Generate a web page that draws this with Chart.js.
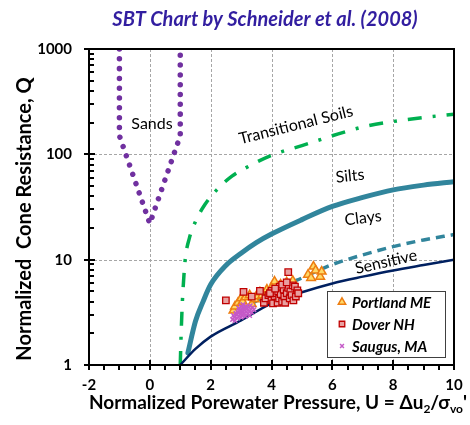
<!DOCTYPE html>
<html>
<head>
<meta charset="utf-8">
<script src="https://cdn.jsdelivr.net/npm/chart.js@4.4.1/dist/chart.umd.min.js"></script>
<style>
  body { margin: 0; background: #fff; }
  canvas { display: block; }
</style>
</head>
<body>
<canvas id="sbt" width="470" height="425"></canvas>
<script>
// axis ticks
const xTicks = [-2, 0, 2, 4, 6, 8, 10];
const yTicks = [1, 10, 100, 1000];
const xGrid = [0, 2, 4, 6, 8];
const yGrid = [10, 100];

// boundary lines (U, Q)
const sandX = [-1, -1, 0, 1, 1];
const sandQ = [1000, 150, 22, 150, 1000];
const transX = [1, 1.03, 1.07, 1.12, 1.17, 1.3, 1.5, 1.8, 2.2, 2.7, 3.25, 4, 5, 6, 7, 8, 9, 10];
const transQ = [1, 2, 4, 7, 10.5, 16, 23, 33, 46, 62, 77, 98, 121, 150, 182, 205, 224, 240];
const clayX = [1.25, 1.5, 1.75, 2, 2.5, 3, 3.5, 4, 5, 6, 7, 8, 9, 10];
const clayQ = [1.3, 2.6, 4.0, 5.8, 8.8, 11.5, 14.5, 17.5, 24, 32, 39, 46, 51, 55];
const sensX = [3.4, 4, 4.5, 5, 6, 7, 8, 9, 10];
const sensQ = [3.9, 4.9, 5.8, 6.7, 9.0, 11.1, 13.3, 15.4, 17.3];
const lowX = [1, 1.5, 2, 3, 4, 5, 6, 7, 8, 9, 10];
const lowQ = [1, 1.42, 1.86, 2.65, 3.85, 4.9, 5.95, 6.9, 7.9, 8.9, 10];

// site data [U, Q]
const portland = [[2.75,3.3],[2.8,3.6],[2.9,3.9],[3.0,4.3],[3.05,4.0],[3.15,4.4],[3.28,4.6],[3.35,3.8],
  [3.45,4.2],[3.5,4.5],[3.62,4.9],[3.7,4.6],[3.85,5.2],[4.1,6.2],[4.3,5.8],[4.5,6.1],[4.7,6.3],
  [5.2,7.2],[5.3,6.7],[5.38,8.6],[5.45,7.9],[5.6,6.9],[5.65,7.7],[4.0,5.4],[3.95,4.9]];
const dover = [[2.5,4.1],[3.08,4.95],[3.35,4.45],[3.62,5.05],[3.75,3.9],[3.8,4.3],[3.9,4.6],[4.0,5.05],
  [4.0,4.1],[4.05,3.85],[4.1,4.5],[4.15,4.8],[4.2,3.9],[4.22,5.0],[4.25,4.3],[4.27,5.55],[4.3,4.7],
  [4.35,4.0],[4.4,5.2],[4.42,4.45],[4.45,3.9],[4.5,4.8],[4.55,5.4],[4.55,7.6],[4.6,4.3],[4.62,5.0],
  [4.66,4.6],[4.7,5.7],[4.72,4.1],[4.77,5.55],[4.8,4.47],[4.85,5.1],[4.88,4.8],[4.35,5.8],[4.5,6.1],
  [3.95,4.8],[4.12,5.3]];
const saugus = [[2.72,2.7],[2.78,2.85],[2.8,2.65],[2.85,3.0],[2.88,2.78],[2.9,3.15],[2.93,2.9],[2.95,3.3],
  [2.97,3.05],[3.0,2.85],[3.02,3.4],[3.04,3.2],[3.05,2.95],[3.08,3.5],[3.1,3.1],[3.12,3.3],[3.14,2.9],
  [3.16,3.6],[3.18,3.2],[3.2,3.42],[3.22,3.05],[3.25,3.55],[3.27,3.25],[3.3,3.65],[3.32,3.4],[3.35,3.15],
  [3.38,3.5],[2.83,3.1],[2.92,3.45],[3.0,3.6],[3.28,2.95],[3.42,3.35],[2.75,2.95],[3.06,3.75],[3.15,3.45],
  [2.98,3.2]];

const zoneLabels = [
  { text: 'Sands', x: 152, y: 124, rot: 0 },
  { text: 'Transitional Soils', x: 296, y: 125, rot: -14 },
  { text: 'Silts', x: 350, y: 176, rot: -6 },
  { text: 'Clays', x: 363, y: 218, rot: -7 },
  { text: 'Sensitive', x: 386, y: 262, rot: -13 },
];

const pts = (xs, ys) => xs.map((x, i) => ({ x, y: ys[i] }));
const xy = arr => arr.map(p => ({ x: p[0], y: p[1] }));

Chart.defaults.font.family = 'Lato, "Open Sans", sans-serif';

const sites = [
  { label: 'Portland ME', data: xy(portland), pointStyle: 'triangle', pointRadius: 5,
    backgroundColor: '#FFD966', borderColor: '#ED7D11', pointBorderWidth: 1.5 },
  { label: 'Dover NH', data: xy(dover), pointStyle: 'rect', pointRadius: 4.6,
    backgroundColor: '#E8A0A0', borderColor: '#C00000', pointBorderWidth: 1.3 },
  { label: 'Saugus, MA', data: xy(saugus), pointStyle: 'crossRot', pointRadius: 3.2,
    backgroundColor: '#C55AC8', borderColor: '#C55AC8', pointBorderWidth: 1.5 },
];

const lineSet = (data, color, width, dash, cap) => ({
  data, showLine: true, pointRadius: 0, borderColor: color, borderWidth: width,
  borderDash: dash, borderCapStyle: cap || 'butt', cubicInterpolationMode: 'monotone', fill: false,
});

const frame = {
  id: 'frame',
  beforeDatasetsDraw(chart) {
    const { ctx, chartArea: a, scales: { x, y } } = chart;
    ctx.save();
    ctx.strokeStyle = '#A6A6A6';
    ctx.lineWidth = 1;
    ctx.setLineDash([3, 2]);
    ctx.beginPath();
    xGrid.forEach(v => {
      const px = Math.round(x.getPixelForValue(v)) + 0.5;
      ctx.moveTo(px, a.top); ctx.lineTo(px, a.bottom);
    });
    yGrid.forEach(v => {
      const py = Math.round(y.getPixelForValue(v)) + 0.5;
      ctx.moveTo(a.left, py); ctx.lineTo(a.right, py);
    });
    ctx.stroke();
    ctx.restore();
  },
  afterDatasetsDraw(chart) {
    const { ctx, chartArea: a, scales: { x, y } } = chart;
    ctx.save();
    ctx.strokeStyle = '#000';
    ctx.lineWidth = 2;
    ctx.strokeRect(a.left, a.top, a.right - a.left, a.bottom - a.top);
    ctx.beginPath();
    for (let v = -2; v <= 10; v += 0.5) {
      const px = Math.round(x.getPixelForValue(v));
      const major = v % 2 === 0;
      ctx.moveTo(px, a.bottom - (major ? 5 : 0));
      ctx.lineTo(px, a.bottom + 5);
    }
    for (let d = 1; d <= 1000; d *= 10) {
      for (let m = 1; m <= 9; m++) {
        const v = d * m;
        if (v > 1000) break;
        const py = Math.round(y.getPixelForValue(v));
        if (m === 1) { ctx.moveTo(a.left - 5, py); ctx.lineTo(a.left + 6, py); }
        else { ctx.moveTo(a.left, py); ctx.lineTo(a.left + 5, py); }
      }
    }
    ctx.stroke();
    ctx.restore();
  },
  afterDraw(chart) {
    const { ctx } = chart;
    ctx.save();
    // title
    ctx.fillStyle = '#321EA0';
    ctx.font = 'italic bold 20px Lato';
    ctx.textAlign = 'center';
    ctx.textBaseline = 'middle';
    ctx.fillText('SBT Chart by Schneider et al. (2008)', 265, 20);

    // y axis title
    ctx.fillStyle = '#000';
    ctx.save();
    ctx.translate(25, 219);
    ctx.rotate(-Math.PI / 2);
    ctx.font = 'bold 20px Lato';
    ctx.fillText('Normalized  Cone Resistance, Q', 0, 0);
    ctx.restore();

    // zone labels
    ctx.font = '16px Lato';
    zoneLabels.forEach(l => {
      ctx.save();
      ctx.translate(l.x, l.y);
      ctx.rotate(l.rot * Math.PI / 180);
      ctx.fillText(l.text, 0, 0);
      ctx.restore();
    });

    // x axis title with subscripts
    const parts = [
      ['Normalized Porewater Pressure, U = \u0394u', false],
      ['2', true],
      ['/\u03C3', false],
      ['vo', true],
      ["'", false],
    ];
    const big = 'bold 19px Lato', small = 'bold 12px Lato';
    let w = 0;
    parts.forEach(p => { ctx.font = p[1] ? small : big; w += ctx.measureText(p[0]).width; });
    let cx = 278 - w / 2;
    ctx.textAlign = 'left';
    ctx.textBaseline = 'alphabetic';
    parts.forEach(p => {
      ctx.font = p[1] ? small : big;
      ctx.fillText(p[0], cx, p[1] ? 413 : 409);
      cx += ctx.measureText(p[0]).width;
    });

    // legend
    const lx = 327, ly = 291, lw = 118, lh = 66;
    ctx.fillStyle = '#fff';
    ctx.fillRect(lx, ly, lw, lh);
    ctx.strokeStyle = '#404040';
    ctx.lineWidth = 1;
    ctx.strokeRect(lx + 0.5, ly + 0.5, lw, lh);
    const rows = [302, 324, 346];
    sites.forEach((s, i) => {
      ctx.fillStyle = s.backgroundColor;
      ctx.strokeStyle = s.borderColor;
      ctx.lineWidth = s.pointBorderWidth;
      Chart.helpers.drawPoint(ctx, { pointStyle: s.pointStyle, radius: s.pointRadius * 0.85, rotation: 0,
        borderWidth: s.pointBorderWidth }, 342, rows[i]);
      ctx.fillStyle = '#000';
      ctx.font = 'italic bold 15px Lato';
      ctx.textBaseline = 'middle';
      ctx.fillText(s.label, 352, rows[i] + 1);
    });
    ctx.restore();
  },
};

new Chart(document.getElementById('sbt'), {
  type: 'scatter',
  data: {
    datasets: [
      sites[2], sites[1], sites[0],
      lineSet(pts(lowX, lowQ), '#002060', 2.5, []),
      lineSet(pts(sensX, sensQ), '#31859C', 3.5, [9, 6]),
      lineSet(pts(clayX, clayQ), '#31859C', 5, [], 'round'),
      lineSet(pts(transX, transQ), '#00B050', 3.5, [14, 11, 3, 11]),
      { ...lineSet(pts(sandX, sandQ), '#7030A0', 5.5, [0.01, 9.8], 'round'), cubicInterpolationMode: 'default', tension: 0 },
    ],
  },
  options: {
    responsive: false,
    animation: false,
    layout: { padding: { top: 49, right: 16, left: 0, bottom: 0 } },
    plugins: { legend: { display: false }, tooltip: { enabled: false } },
    scales: {
      x: {
        type: 'linear', min: -2, max: 10,
        afterBuildTicks: s => { s.ticks = xTicks.map(v => ({ value: v })); },
        afterFit: s => { s.height = 60; },
        grid: { display: true, color: 'transparent', drawOnChartArea: false, tickLength: 5 },
        border: { display: false },
        ticks: { color: '#000', font: { size: 15, weight: 'bold' }, padding: 6, maxRotation: 0, callback: v => String(v) },
      },
      y: {
        type: 'logarithmic', min: 1, max: 1000,
        afterBuildTicks: s => { s.ticks = yTicks.map(v => ({ value: v })); },
        afterFit: s => { s.width = 89; },
        grid: { display: true, color: 'transparent', drawOnChartArea: false, tickLength: 8 },
        border: { display: false },
        ticks: { color: '#000', font: { size: 15, weight: 'bold' }, padding: 9, callback: v => String(v) },
      },
    },
  },
  plugins: [frame],
});
</script>
</body>
</html>
